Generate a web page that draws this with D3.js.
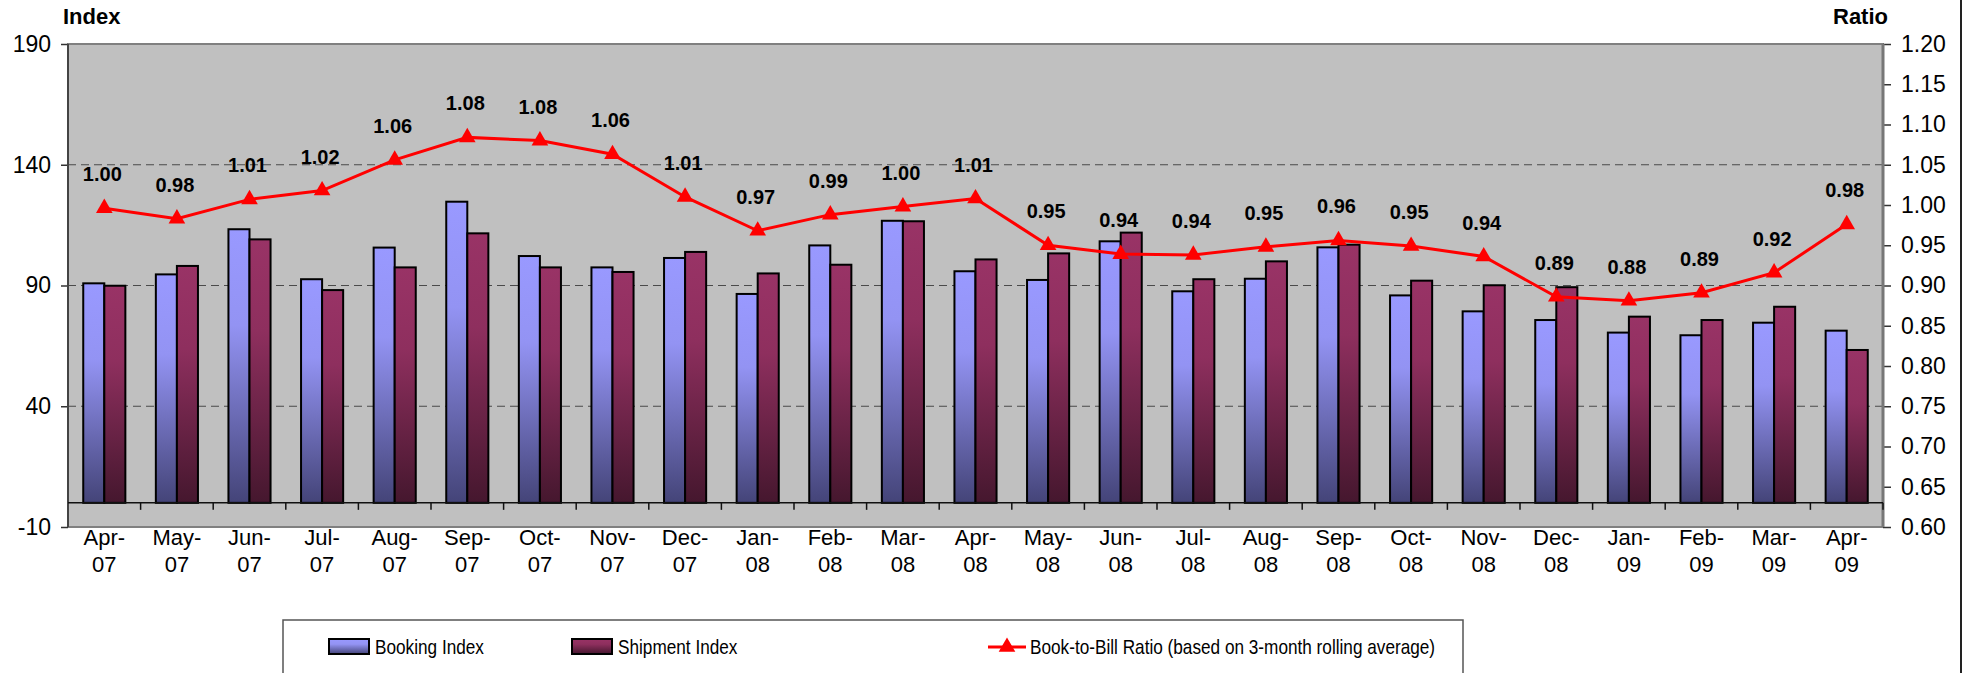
<!DOCTYPE html>
<html>
<head>
<meta charset="utf-8">
<script src="https://cdn.jsdelivr.net/npm/d3@7"></script>
<style>
  body { margin: 0; background: #fff; }
  text { font-family: "Liberation Sans", Arial, sans-serif; }
</style>
</head>
<body>
<svg width="1970" height="673"></svg>
<script>
var months = ["Apr-07", "May-07", "Jun-07", "Jul-07", "Aug-07", "Sep-07", "Oct-07", "Nov-07", "Dec-07",
  "Jan-08", "Feb-08", "Mar-08", "Apr-08", "May-08", "Jun-08", "Jul-08", "Aug-08", "Sep-08", "Oct-08",
  "Nov-08", "Dec-08", "Jan-09", "Feb-09", "Mar-09", "Apr-09"];
var booking = [90.9, 94.6, 113.3, 92.6, 105.7, 124.7, 102.2, 97.5, 101.4, 86.5, 106.6, 116.8, 95.9,
  92.3, 108.3, 87.6, 92.8, 105.8, 85.9, 79.3, 75.7, 70.5, 69.4, 74.6, 71.3];
var shipment = [89.9, 98.1, 109.1, 88.1, 97.5, 111.6, 97.5, 95.6, 103.9, 95.0, 98.6, 116.6, 100.8,
  103.3, 111.9, 92.6, 100.0, 106.9, 92.0, 90.1, 89.3, 77.1, 75.7, 81.2, 63.3];
var ratio = [0.996, 0.983, 1.007, 1.018, 1.056, 1.084, 1.080, 1.063, 1.010, 0.968, 0.988, 0.998, 1.008,
  0.950, 0.939, 0.938, 0.948, 0.956, 0.949, 0.936, 0.886, 0.881, 0.891, 0.916, 0.976];
var leftTicks = [-10, 40, 90, 140, 190];
var rightTicks = d3.range(0.60, 1.2001, 0.05);
var seriesNames = ["Booking Index", "Shipment Index"];
var ratioName = "Book-to-Bill Ratio (based on 3-month rolling average)";

var svg = d3.select("svg");
var pL = 68, pR = 1883, pT = 44, pB = 527;

var x = d3.scaleBand().domain(months).range([pL, pR]).paddingInner(0.42).paddingOuter(0.21);
var xs = d3.scaleBand().domain(seriesNames).range([0, x.bandwidth()]);
var step = x.step();
var y = d3.scaleLinear().domain([-10, 190]).range([pB, pT]);
var y2 = d3.scaleLinear().domain([0.6, 1.2]).range([pB, pT]);

// gradients
var defs = svg.append("defs");
var grads = [
  { id: "gBook", stops: ["#9999ff", "#9393f3", "#444478"] },
  { id: "gShip", stops: ["#993366", "#8e2f5e", "#45172e"] }
];
grads.forEach(function (g) {
  var lg = defs.append("linearGradient").attr("id", g.id)
    .attr("x1", 0).attr("y1", 0).attr("x2", 0).attr("y2", 1);
  lg.append("stop").attr("offset", "0%").attr("stop-color", g.stops[0]);
  lg.append("stop").attr("offset", "35%").attr("stop-color", g.stops[1]);
  lg.append("stop").attr("offset", "100%").attr("stop-color", g.stops[2]);
});

// plot area
svg.append("rect")
  .attr("x", pL).attr("y", pT)
  .attr("width", pR - pL).attr("height", pB - pT)
  .style("fill", "#c0c0c0")
  .style("stroke", "#808080")
  .style("stroke-width", 2);

// gridlines
svg.selectAll(".grid")
  .data([40, 90, 140])
  .enter()
  .append("line")
  .attr("x1", pL).attr("x2", pR)
  .attr("y1", (d) => y(d)).attr("y2", (d) => y(d))
  .style("stroke", "#4a4a4a")
  .style("stroke-width", 1)
  .style("stroke-dasharray", "8,5");

// left axis
var yAxis = d3.axisLeft(y).tickValues(leftTicks).tickSize(7).tickPadding(10).tickFormat((d) => String(d));
var ga = svg.append("g").attr("transform", "translate(" + pL + ",0)").call(yAxis);
ga.select(".domain").remove();
ga.selectAll(".tick line").style("stroke", "#333").style("stroke-width", 1.5);
ga.selectAll("text").style("font-size", "23px").style("fill", "#000");
svg.append("line").attr("x1", pL).attr("x2", pL).attr("y1", pT).attr("y2", pB)
  .style("stroke", "#444").style("stroke-width", 2);

// right axis
var y2Axis = d3.axisRight(y2).tickValues(rightTicks).tickSize(8).tickPadding(10).tickFormat(d3.format(".2f"));
var gb = svg.append("g").attr("transform", "translate(" + pR + ",0)").call(y2Axis);
gb.select(".domain").remove();
gb.selectAll(".tick line").style("stroke", "#333").style("stroke-width", 1.5);
gb.selectAll("text").style("font-size", "23px").style("fill", "#000");
svg.append("line").attr("x1", pR).attr("x2", pR).attr("y1", pT).attr("y2", pB)
  .style("stroke", "#777").style("stroke-width", 3);

// axis titles
svg.append("text").attr("x", 63).attr("y", 24).text("Index")
  .style("font-size", "22px").style("font-weight", "bold");
svg.append("text").attr("x", 1888).attr("y", 24).attr("text-anchor", "end").text("Ratio")
  .style("font-size", "22px").style("font-weight", "bold");

// bars
var rows = months.map((m, i) => ({ month: m, values: [booking[i], shipment[i]] }));
var groups = svg.selectAll(".grp")
  .data(rows)
  .enter()
  .append("g")
  .attr("transform", (d) => "translate(" + x(d.month) + ",0)");
groups.selectAll("rect")
  .data((d) => d.values.map((v, k) => ({ key: seriesNames[k], v: v, k: k })))
  .enter()
  .append("rect")
  .attr("x", (d) => xs(d.key))
  .attr("y", (d) => y(d.v))
  .attr("width", xs.bandwidth())
  .attr("height", (d) => y(0) - y(d.v))
  .style("fill", (d) => d.k === 0 ? "url(#gBook)" : "url(#gShip)")
  .style("stroke", "#000")
  .style("stroke-width", 2);

// category axis at zero
svg.append("line").attr("x1", pL).attr("x2", pR).attr("y1", y(0)).attr("y2", y(0))
  .style("stroke", "#111").style("stroke-width", 1.5);
svg.selectAll(".xtick")
  .data(months)
  .enter()
  .append("line")
  .attr("x1", (d, i) => pL + step * (i + 1))
  .attr("x2", (d, i) => pL + step * (i + 1))
  .attr("y1", y(0)).attr("y2", y(0) + 7)
  .style("stroke", "#111").style("stroke-width", 1.5);

var xl = svg.selectAll(".xlab")
  .data(months)
  .enter()
  .append("text")
  .attr("text-anchor", "middle")
  .style("font-size", "22px");
xl.append("tspan")
  .attr("x", (d) => x(d) + x.bandwidth() / 2)
  .attr("y", 545)
  .text((d) => d.split("-")[0] + "-");
xl.append("tspan")
  .attr("x", (d) => x(d) + x.bandwidth() / 2)
  .attr("y", 572)
  .text((d) => d.split("-")[1]);

// ratio line
var cx = (d, i) => x(months[i]) + x.bandwidth() / 2;
var line = d3.line().x(cx).y((d) => y2(d));
svg.append("path")
  .datum(ratio)
  .attr("d", line)
  .style("fill", "none")
  .style("stroke", "#ff0000")
  .style("stroke-width", 3);
var tri = d3.symbol().type(d3.symbolTriangle).size(120);
svg.selectAll(".mk")
  .data(ratio)
  .enter()
  .append("path")
  .attr("d", tri)
  .attr("transform", (d, i) => "translate(" + cx(d, i) + "," + y2(d) + ")")
  .style("fill", "#ff0000");
svg.selectAll(".rl")
  .data(ratio)
  .enter()
  .append("text")
  .attr("x", (d, i) => cx(d, i) - 2)
  .attr("y", (d) => y2(d) - 27)
  .attr("text-anchor", "middle")
  .text(d3.format(".2f"))
  .style("font-size", "20px")
  .style("font-weight", "bold");

// legend
svg.append("rect")
  .attr("x", 283).attr("y", 620)
  .attr("width", 1180).attr("height", 70)
  .style("fill", "#fff")
  .style("stroke", "#555")
  .style("stroke-width", 1.5);
var legendItems = [
  { x: 329, fill: "url(#gBook)", label: seriesNames[0] },
  { x: 572, fill: "url(#gShip)", label: seriesNames[1] }
];
var lg = svg.selectAll(".lg")
  .data(legendItems)
  .enter()
  .append("g")
  .attr("transform", (d) => "translate(" + d.x + ",639)");
lg.append("rect")
  .attr("width", 40).attr("height", 15)
  .style("fill", (d) => d.fill)
  .style("stroke", "#000").style("stroke-width", 2);
lg.append("text")
  .attr("transform", "translate(46,15) scale(0.86,1)")
  .text((d) => d.label)
  .style("font-size", "20px");

svg.append("line").attr("x1", 988).attr("x2", 1026).attr("y1", 647).attr("y2", 647)
  .style("stroke", "#ff0000").style("stroke-width", 3);
svg.append("path").attr("d", tri).attr("transform", "translate(1007,647)").style("fill", "#ff0000");
svg.append("text")
  .attr("transform", "translate(1030,654) scale(0.86,1)")
  .text(ratioName)
  .style("font-size", "20px");

// chart border on the right
svg.append("line").attr("x1", 1961).attr("x2", 1961).attr("y1", 0).attr("y2", 673)
  .style("stroke", "#222").style("stroke-width", 2);
</script>
</body>
</html>
